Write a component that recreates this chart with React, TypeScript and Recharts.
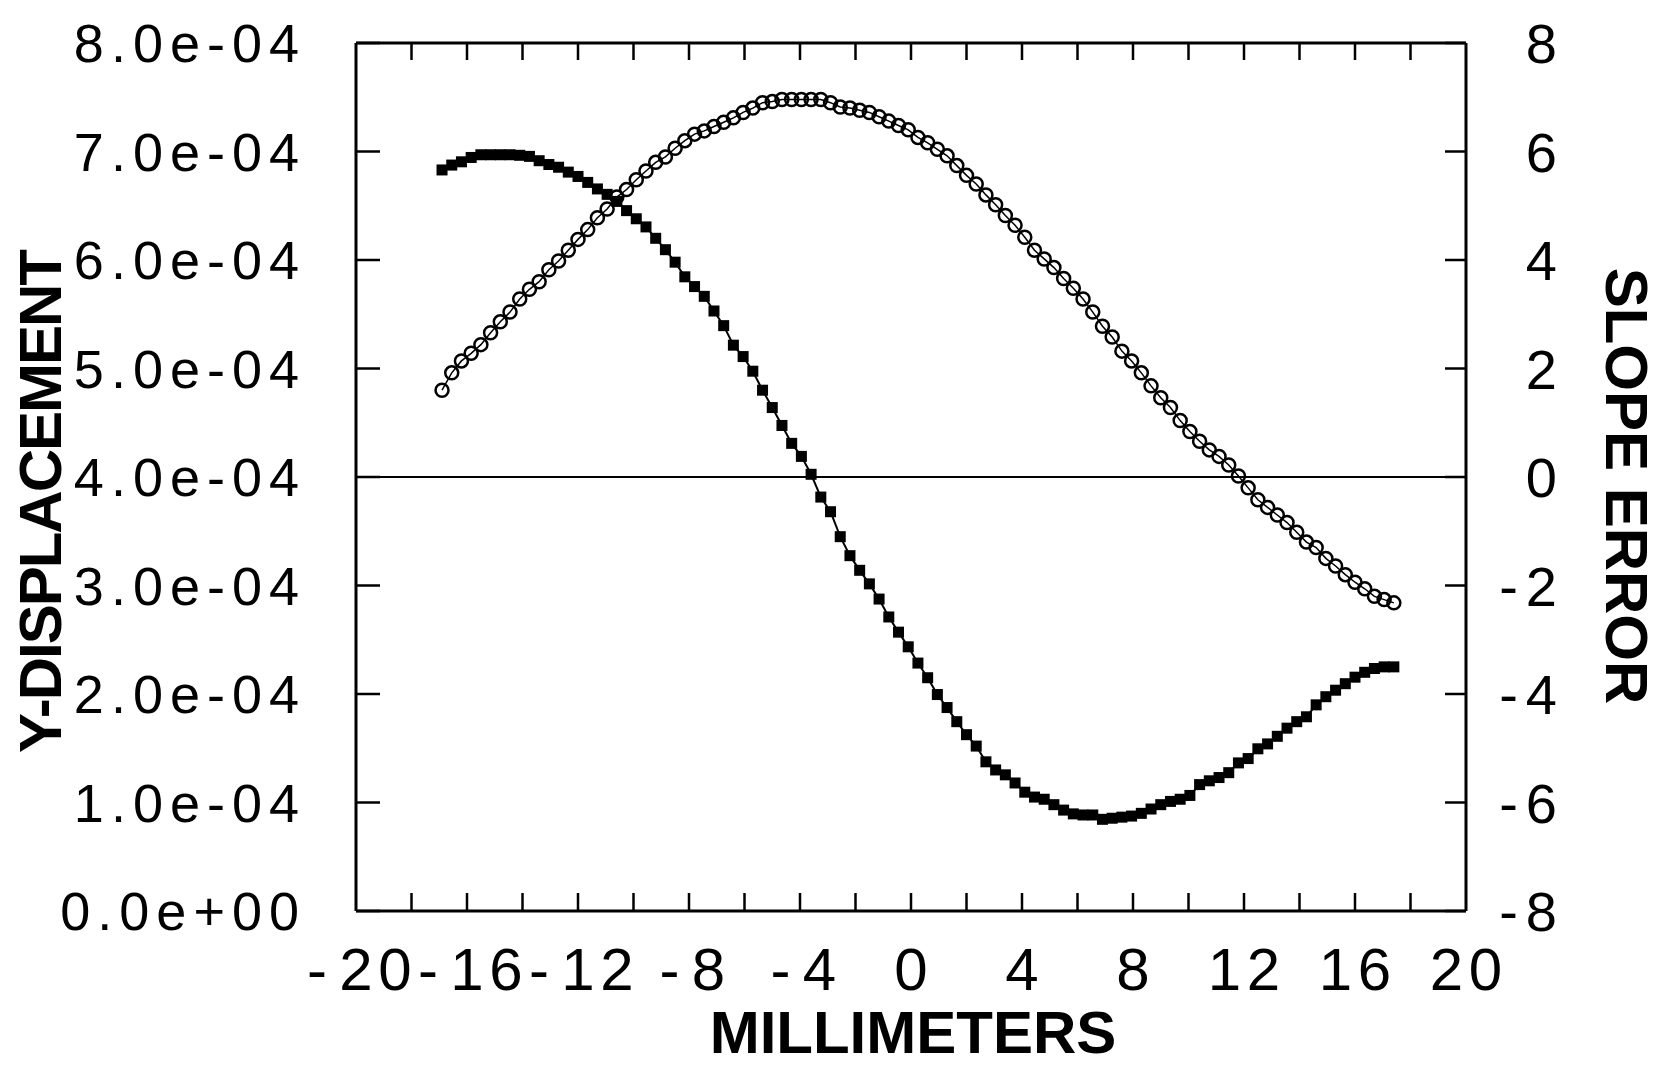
import React from "react";
import { ComposedChart, Line, XAxis, YAxis, ReferenceLine, Label } from "recharts";

// sample positions along the part (mm)
const xMm = [
   -16.9, -16.55, -16.2, -15.85, -15.5, -15.15, -14.8, -14.45, -14.1, -13.75,
   -13.4, -13.05, -12.7, -12.35, -12.0, -11.65, -11.3, -10.95, -10.6, -10.25,
   -9.9, -9.55, -9.2, -8.85, -8.5, -8.15, -7.8, -7.45, -7.1, -6.75,
   -6.4, -6.05, -5.7, -5.35, -5.0, -4.65, -4.3, -3.95, -3.6, -3.25,
   -2.9, -2.55, -2.2, -1.85, -1.5, -1.15, -0.8, -0.45, -0.1, 0.25,
   0.6, 0.95, 1.3, 1.65, 2.0, 2.35, 2.7, 3.05, 3.4, 3.75,
   4.1, 4.45, 4.8, 5.15, 5.5, 5.85, 6.2, 6.55, 6.9, 7.25,
   7.6, 7.95, 8.3, 8.65, 9.0, 9.35, 9.7, 10.05, 10.4, 10.75,
   11.1, 11.45, 11.8, 12.15, 12.5, 12.85, 13.2, 13.55, 13.9, 14.25,
   14.6, 14.95, 15.3, 15.65, 16.0, 16.35, 16.7, 17.05, 17.4,
];

// open circles, left axis
const displacement = [
   4.8e-4, 4.96e-4, 5.07e-4, 5.14e-4, 5.22e-4, 5.33e-4, 5.43e-4, 5.52e-4, 5.64e-4, 5.73e-4,
   5.8e-4, 5.91e-4, 5.99e-4, 6.09e-4, 6.19e-4, 6.28e-4, 6.39e-4, 6.47e-4, 6.58e-4, 6.65e-4,
   6.74e-4, 6.82e-4, 6.9e-4, 6.95e-4, 7.03e-4, 7.1e-4, 7.16e-4, 7.19e-4, 7.23e-4, 7.27e-4,
   7.31e-4, 7.36e-4, 7.4e-4, 7.45e-4, 7.46e-4, 7.48e-4, 7.48e-4, 7.48e-4, 7.48e-4, 7.48e-4,
   7.45e-4, 7.41e-4, 7.4e-4, 7.38e-4, 7.36e-4, 7.32e-4, 7.28e-4, 7.24e-4, 7.2e-4, 7.13e-4,
   7.08e-4, 7.02e-4, 6.96e-4, 6.87e-4, 6.78e-4, 6.7e-4, 6.6e-4, 6.51e-4, 6.41e-4, 6.32e-4,
   6.21e-4, 6.09e-4, 6.01e-4, 5.93e-4, 5.83e-4, 5.74e-4, 5.64e-4, 5.52e-4, 5.39e-4, 5.29e-4,
   5.16e-4, 5.07e-4, 4.96e-4, 4.84e-4, 4.73e-4, 4.64e-4, 4.52e-4, 4.42e-4, 4.33e-4, 4.25e-4,
   4.19e-4, 4.11e-4, 4.01e-4, 3.9e-4, 3.79e-4, 3.72e-4, 3.65e-4, 3.58e-4, 3.49e-4, 3.4e-4,
   3.35e-4, 3.25e-4, 3.18e-4, 3.1e-4, 3.03e-4, 2.97e-4, 2.9e-4, 2.87e-4, 2.84e-4,
];

// filled squares, right axis
const slopeError = [
   5.66, 5.75, 5.81, 5.89, 5.94, 5.94, 5.94, 5.94, 5.93, 5.91,
   5.83, 5.76, 5.71, 5.62, 5.54, 5.43, 5.31, 5.21, 5.08, 4.91,
   4.76, 4.61, 4.4, 4.19, 3.96, 3.69, 3.51, 3.33, 3.06, 2.79,
   2.43, 2.22, 1.95, 1.6, 1.28, 0.95, 0.62, 0.38, 0.05, -0.37,
   -0.64, -1.1, -1.45, -1.72, -1.97, -2.25, -2.58, -2.86, -3.13, -3.43,
   -3.7, -4.01, -4.25, -4.51, -4.75, -4.96, -5.25, -5.4, -5.49, -5.64,
   -5.81, -5.9, -5.94, -6.04, -6.14, -6.21, -6.23, -6.23, -6.31, -6.29,
   -6.27, -6.25, -6.2, -6.12, -6.04, -5.98, -5.94, -5.87, -5.67, -5.6,
   -5.54, -5.45, -5.27, -5.19, -5.01, -4.92, -4.78, -4.63, -4.51, -4.42,
   -4.2, -4.05, -3.93, -3.81, -3.69, -3.6, -3.53, -3.5, -3.5,
];

const xTicks = [-20, -18, -16, -14, -12, -10, -8, -6, -4, -2, 0, 2, 4, 6, 8, 10, 12, 14, 16, 18, 20];
const dispTicks = [0, 1e-4, 2e-4, 3e-4, 4e-4, 5e-4, 6e-4, 7e-4, 8e-4];
const slopeTicks = [-8, -6, -4, -2, 0, 2, 4, 6, 8];

const data = xMm.map((x, i) => ({ x, disp: displacement[i], slope: slopeError[i] }));

const FONT = '"Liberation Sans", Arial, Helvetica, sans-serif';

const fmtExp = (v: number) => {
   const [m, e] = v.toExponential(1).split("e");
   return `${m}e${e[0]}${e.slice(1).padStart(2, "0")}`;
};

const BottomTick = (props: any) => {
   const { x, y, payload } = props;
   const v = payload.value;
   const chars = String(v).split("");
   const cell = 39;
   const start = x - ((chars.length - 1) * cell) / 2;
   return (
      <g>
         {Math.abs(v) !== 20 && (
            <line x1={x} x2={x} y1={y} y2={y - 18} stroke="#000" strokeWidth={2.5} />
         )}
         {v % 4 === 0 &&
            chars.map((c, i) => (
               <text
                  key={i}
                  x={start + i * cell}
                  y={y + 79}
                  textAnchor="middle"
                  fontSize={60}
                  fontFamily={FONT}
                  fill="#000"
               >
                  {c}
               </text>
            ))}
      </g>
   );
};

const TopTick = (props: any) => {
   const { x, y, payload } = props;
   if (Math.abs(payload.value) === 20) return <g />;
   return <line x1={x} x2={x} y1={y} y2={y + 17} stroke="#000" strokeWidth={2.5} />;
};

const LeftTick = (props: any) => {
   const { x, y, payload } = props;
   return (
      <g>
         <line x1={x} x2={x + 24} y1={y} y2={y} stroke="#000" strokeWidth={2.5} />
         <text
            x={x - 50}
            y={y + 19}
            textAnchor="end"
            fontSize={54}
            letterSpacing={7}
            fontFamily={FONT}
            fill="#000"
         >
            {fmtExp(payload.value)}
         </text>
      </g>
   );
};

const RightTick = (props: any) => {
   const { x, y, payload } = props;
   return (
      <g>
         <line x1={x} x2={x - 21} y1={y} y2={y} stroke="#000" strokeWidth={2.5} />
         <text
            x={x + 99}
            y={y + 20}
            textAnchor="end"
            fontSize={56}
            letterSpacing={8}
            fontFamily={FONT}
            fill="#000"
         >
            {String(payload.value)}
         </text>
      </g>
   );
};

const SquareDot = (p: any) => {
   if (p.cx == null || p.cy == null) return <g key={`sq-${p.index}`} />;
   return <rect key={`sq-${p.index}`} x={p.cx - 5.5} y={p.cy - 5.5} width={11} height={11} fill="#000" />;
};

const frame = { stroke: "#000", strokeWidth: 3 };

export default function App() {
   return (
      <div style={{ position: "absolute", left: 0, top: 0, background: "#fff" }}>
         <ComposedChart
            width={1662}
            height={1068}
            data={data}
            margin={{ top: 0, right: 0, bottom: 0, left: 0 }}
         >
            <XAxis
               xAxisId="bottom"
               dataKey="x"
               type="number"
               domain={[-20, 20]}
               allowDataOverflow
               ticks={xTicks}
               interval={0}
               tickSize={0}
               tickMargin={0}
               tickLine={false}
               axisLine={frame}
               tick={<BottomTick />}
               height={157}
            >
               <Label
                  content={() => (
                     <text
                        x={913}
                        y={1053}
                        textAnchor="middle"
                        fontSize={60}
                        fontWeight="bold"
                        fontFamily={FONT}
                        fill="#000"
                     >
                        MILLIMETERS
                     </text>
                  )}
               />
            </XAxis>
            <XAxis
               xAxisId="top"
               orientation="top"
               dataKey="x"
               type="number"
               domain={[-20, 20]}
               allowDataOverflow
               ticks={xTicks}
               interval={0}
               tickSize={0}
               tickMargin={0}
               tickLine={false}
               axisLine={frame}
               tick={<TopTick />}
               height={43}
            />
            <YAxis
               yAxisId="left"
               type="number"
               domain={[0, 8e-4]}
               allowDataOverflow
               ticks={dispTicks}
               interval={0}
               tickSize={0}
               tickMargin={0}
               tickLine={false}
               axisLine={frame}
               tick={<LeftTick />}
               width={356}
            >
               <Label
                  content={() => (
                     <text
                        x={61}
                        y={502}
                        transform="rotate(-90, 61, 502)"
                        textAnchor="middle"
                        fontSize={60}
                        letterSpacing={-2}
                        fontWeight="bold"
                        fontFamily={FONT}
                        fill="#000"
                     >
                        Y-DISPLACEMENT
                     </text>
                  )}
               />
            </YAxis>
            <YAxis
               yAxisId="right"
               orientation="right"
               type="number"
               domain={[-8, 8]}
               allowDataOverflow
               ticks={slopeTicks}
               interval={0}
               tickSize={0}
               tickMargin={0}
               tickLine={false}
               axisLine={frame}
               tick={<RightTick />}
               width={196}
            >
               <Label
                  content={() => (
                     <text
                        x={1606}
                        y={486}
                        transform="rotate(90, 1606, 486)"
                        textAnchor="middle"
                        fontSize={60}
                        fontWeight="bold"
                        fontFamily={FONT}
                        fill="#000"
                     >
                        SLOPE ERROR
                     </text>
                  )}
               />
            </YAxis>

            <ReferenceLine xAxisId="bottom" yAxisId="right" y={0} stroke="#000" strokeWidth={2} />

            <Line
               xAxisId="top"
               yAxisId="left"
               dataKey="disp"
               type="linear"
               stroke="#000"
               strokeWidth={1.5}
               dot={{ r: 6.5, fill: "none", stroke: "#000", strokeWidth: 2.5 }}
               activeDot={false}
               isAnimationActive={false}
            />
            <Line
               xAxisId="bottom"
               yAxisId="right"
               dataKey="slope"
               type="linear"
               stroke="#000"
               strokeWidth={2}
               dot={SquareDot}
               activeDot={false}
               isAnimationActive={false}
            />
         </ComposedChart>
      </div>
   );
}
